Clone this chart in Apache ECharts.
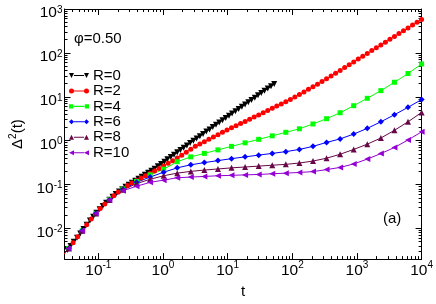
<!DOCTYPE html>
<html><head><meta charset="utf-8">
<script src="https://cdn.jsdelivr.net/npm/echarts@6/dist/echarts.min.js"></script>
<style>html,body{margin:0;padding:0;background:#fff}#c{width:436px;height:304px}</style>
</head><body><div id="c"></div>
<script>
// ---- data (t, Delta^2(t)) ----
const tR0 = [0.0331,0.0372,0.0417,0.0468,0.0525,0.0589,0.0661,0.0741,0.0832,0.0933,
  0.105,0.117,0.132,0.148,0.166,0.186,0.209,0.234,0.263,0.295,
  0.331,0.372,0.417,0.468,0.525,0.589,0.661,0.741,0.832,0.933,
  1.05,1.17,1.32,1.48,1.66,1.86,2.09,2.34,2.63,2.95,
  3.31,3.72,4.17,4.68,5.25,5.89,6.61,7.41,8.32,9.33,
  10.5,11.7,13.2,14.8,16.6,18.6,20.9,23.4,26.3,29.5,
  33.1,37.2,41.7,46.8,52.5];
const dR0 = [0.003206,0.00399,0.004955,0.006166,0.007709,0.009661,0.01208,0.01514,0.01854,0.02275,
  0.02748,0.03258,0.03855,0.04519,0.05236,0.06053,0.06934,0.07852,0.08872,0.09954,
  0.1104,0.1225,0.1358,0.1507,0.1671,0.1854,0.2056,0.2296,0.2600,0.2938,
  0.3319,0.3750,0.4236,0.4786,0.5408,0.6095,0.6887,0.7780,0.8810,0.9954,
  1.125,1.265,1.426,1.607,1.807,2.037,2.296,2.582,2.911,3.281,
  3.690,4.159,4.688,5.272,5.943,6.683,7.534,8.472,9.550,10.76,
  12.11,13.65,15.38,17.30,19.50];

const tR2 = [0.0295,0.0347,0.0407,0.0479,0.0562,0.0661,0.0776,0.0912,0.107,0.126,
  0.148,0.174,0.204,0.240,0.282,0.331,0.389,0.457,0.537,0.631,
  0.741,0.871,1.023,1.202,1.413,1.660,1.950,2.291,2.692,3.162,
  3.715,4.365,5.129,6.026,7.079,8.318,9.772,11.48,13.49,15.85,
  18.62,21.88,25.70,30.20,35.48,41.69,48.98,57.54,67.61,79.43,
  93.33,109.6,128.8,151.4,177.8,208.9,245.5,288.4,338.8,398.1,
  467.7,549.5,645.7,758.6,891.3,1047,1230,1445,1698,1995,
  2344,2754,3236,3802,4467,5248,6166,7244,8511,10000];
const dR2 = [0.00257,0.00350,0.00474,0.00646,0.00883,0.01208,0.01641,0.02183,0.02844,0.03606,
  0.04519,0.05546,0.06776,0.08035,0.0955,0.1086,0.1236,0.1406,0.1589,0.1795,
  0.2028,0.2312,0.2655,0.3048,0.3499,0.4018,0.4656,0.5445,0.6353,0.7413,
  0.8375,0.9462,1.072,1.211,1.368,1.545,1.746,1.959,2.193,2.455,
  2.748,3.076,3.443,3.855,4.325,4.853,5.458,6.124,6.887,7.727,
  8.670,9.863,11.27,12.91,14.79,16.94,19.41,22.18,25.59,29.65,
  34.36,39.90,46.24,53.70,62.23,72.11,83.75,97.05,112.7,130.6,
  151.4,175.8,203.7,236.6,274.8,319.2,369.8,429.5,498.9,579.4];

const tLong = [0.0347,0.0562,0.0912,0.148,0.240,0.389,0.631,1.023,1.660,2.692,
  4.365,7.079,11.48,18.62,30.20,48.98,79.43,128.8,208.9,338.8,
  549.5,891.3,1445,2344,3802,6166,10000];
const dR4 = [0.0035,0.00883,0.0218,0.0452,0.0794,0.1175,0.166,0.224,0.331,0.427,
  0.513,0.617,0.741,0.891,1.072,1.288,1.549,1.862,2.399,3.162,
  4.325,6.266,9.226,13.80,21.38,33.88,55.85];
const dR6 = [0.0035,0.00883,0.0218,0.0447,0.0776,0.1122,0.148,0.191,0.240,0.282,
  0.316,0.351,0.389,0.427,0.468,0.513,0.562,0.631,0.741,0.912,
  1.096,1.413,1.905,2.692,3.890,5.754,8.650];
const dR8 = [0.0035,0.00883,0.0218,0.0447,0.0759,0.1047,0.1318,0.1585,0.182,0.1995,
  0.2138,0.2265,0.2399,0.2512,0.263,0.2754,0.2884,0.309,0.343,0.398,
  0.490,0.631,0.832,1.148,1.718,2.692,4.395];
const dR10 = [0.0035,0.00883,0.0218,0.0447,0.0724,0.0912,0.1122,0.1259,0.1429,0.1479,
  0.1531,0.1585,0.1622,0.1660,0.1698,0.1758,0.1820,0.1884,0.1972,0.2188,
  0.2455,0.2951,0.3802,0.5070,0.6998,1.035,1.589];

const seriesNames = ['R=0','R=2','R=4','R=6','R=8','R=10'];

// ---- ticks ----
const xMajor = [0.1,1,10,100,1000,10000];
const xMinor = [0.04,0.05,0.06,0.07,0.08,0.09,0.2,0.3,0.4,0.5,0.6,0.7,0.8,0.9,
  2,3,4,5,6,7,8,9,20,30,40,50,60,70,80,90,200,300,400,500,600,700,800,900,
  2000,3000,4000,5000,6000,7000,8000,9000];
const yMajor = [0.01,0.1,1,10,100,1000];
const yMinor = [0.003,0.004,0.005,0.006,0.007,0.008,0.009,0.02,0.03,0.04,0.05,0.06,0.07,0.08,0.09,
  0.2,0.3,0.4,0.5,0.6,0.7,0.8,0.9,2,3,4,5,6,7,8,9,20,30,40,50,60,70,80,90,
  200,300,400,500,600,700,800,900];

const FONT = 'Liberation Sans, Arial, Helvetica, sans-serif';
const pow10 = v => { const e = Math.round(Math.log10(v)); return '{b|10}{s|' + e + '}'; };

function xAx(pos, ticks, len, labels, line) {
  return {
    type: 'log', logBase: 10, min: 0.03, max: 10000, position: pos, gridIndex: 0,
    axisLine: { show: line, onZero: false, lineStyle: { color: '#000', width: 1 } },
    axisTick: { show: true, inside: true, length: len, customValues: ticks, lineStyle: { color: '#000', width: 1 } },
    axisLabel: labels ? {
      show: true, customValues: ticks, margin: 1, formatter: pow10,
      rich: { b: { fontSize: 15.5, lineHeight: 22, fontFamily: FONT, color: '#000' },
              s: { fontSize: 10, lineHeight: 8, verticalAlign: 'top', fontFamily: FONT, color: '#000' } }
    } : { show: false },
    splitLine: { show: false }, minorTick: { show: false }, minorSplitLine: { show: false }
  };
}
function yAx(pos, ticks, len, labels, line) {
  return {
    type: 'log', logBase: 10, min: 0.002, max: 1000, position: pos, gridIndex: 0,
    axisLine: { show: line, onZero: false, lineStyle: { color: '#000', width: 1 } },
    axisTick: { show: true, inside: true, length: len, customValues: ticks, lineStyle: { color: '#000', width: 1 } },
    axisLabel: labels ? {
      show: true, customValues: ticks, margin: 2, formatter: pow10, padding: [8, 0, 0, 0],
      rich: { b: { fontSize: 15.5, lineHeight: 16, fontFamily: FONT, color: '#000' },
              s: { fontSize: 10, lineHeight: 6, verticalAlign: 'top', fontFamily: FONT, color: '#000' } }
    } : { show: false },
    splitLine: { show: false }, minorTick: { show: false }, minorSplitLine: { show: false }
  };
}

const xAxes = [xAx('bottom', xMajor, 6, true, true), xAx('bottom', xMinor, 3, false, false),
               xAx('top', xMajor, 6, false, true), xAx('top', xMinor, 3, false, false)];
xAxes[0].name = 't';
xAxes[0].nameLocation = 'middle';
xAxes[0].nameGap = 17;
xAxes[0].nameTextStyle = { fontSize: 15, fontFamily: FONT, color: '#000' };
const yAxes = [yAx('left', yMajor, 6, true, true), yAx('left', yMinor, 3, false, false),
               yAx('right', yMajor, 6, false, true), yAx('right', yMinor, 3, false, false)];
yAxes[0].name = '{a|Δ}{s|2}{a|(t)}';
yAxes[0].nameLocation = 'middle';
yAxes[0].nameRotate = 90;
yAxes[0].nameGap = 35;
yAxes[0].nameTextStyle = { rich: {
  a: { fontSize: 15, lineHeight: 20, fontFamily: FONT, color: '#000' },
  s: { fontSize: 10, lineHeight: 8, verticalAlign: 'top', fontFamily: FONT, color: '#000' } } };

// legend icons: a line with a marker at both ends (no overlapping sub-paths)
const LINE = 'M4.9,2 L15.1,2 L15.1,3 L4.9,3 Z ';
const legendIcons = {
  'R=0': 'path://' + LINE + 'M0,0 L5,0 L2.5,5 Z M15,0 L20,0 L17.5,5 Z',
  'R=2': 'path://' + LINE + 'M0,2.5 A2.5,2.5 0 1 1 5,2.5 A2.5,2.5 0 1 1 0,2.5 Z M15,2.5 A2.5,2.5 0 1 1 20,2.5 A2.5,2.5 0 1 1 15,2.5 Z',
  'R=4': 'path://' + LINE + 'M0.5,0.5 L4.5,0.5 L4.5,4.5 L0.5,4.5 Z M15.5,0.5 L19.5,0.5 L19.5,4.5 L15.5,4.5 Z',
  'R=6': 'path://' + LINE + 'M0,2.5 L2.5,0 L5,2.5 L2.5,5 Z M15,2.5 L17.5,0 L20,2.5 L17.5,5 Z',
  'R=8': 'path://' + LINE + 'M0,5 L5,5 L2.5,0 Z M15,5 L20,5 L17.5,0 Z',
  'R=10': 'path://' + LINE + 'M0,2.5 L5,0 L5,5 Z M15,2.5 L20,0 L20,5 Z'
};

function mk(name, ts, ds, color, symbol, rot, size) {
  return {
    type: 'line', name: name, xAxisIndex: 0, yAxisIndex: 0,
    data: ts.map((t, i) => [t, ds[i]]),
    symbol: symbol, symbolRotate: rot, symbolSize: size, showSymbol: true,
    lineStyle: { color: color, width: 1 }, itemStyle: { color: color },
    emphasis: { disabled: true }, animation: false, clip: true
  };
}

const chart = echarts.init(document.getElementById('c'), null, { renderer: 'canvas' });
chart.setOption({
  backgroundColor: '#fff',
  animation: false,
  grid: { left: 55, top: 9, width: 368, height: 258, containLabel: false },
  xAxis: xAxes,
  yAxis: yAxes,
  legend: {
    orient: 'vertical', left: 69, top: 68, padding: 0, itemGap: 0.45,
    itemWidth: 20, itemHeight: 5,
    itemStyle: { borderWidth: 0 },
    data: seriesNames.map(n => ({ name: n, icon: legendIcons[n] })),
    textStyle: { fontSize: 15, lineHeight: 14, fontFamily: FONT, color: '#000', padding: [0, 0, 0, -1] }
  },
  graphic: [
    { type: 'text', left: 74, top: 31, style: { text: 'φ=0.50', font: '15px ' + FONT, fill: '#000' } },
    { type: 'text', left: 383, top: 211, style: { text: '(a)', font: '15px ' + FONT, fill: '#000' } }
  ],
  series: [
    mk('R=0', tR0, dR0, '#000000', 'triangle', 180, 6),
    mk('R=2', tR2, dR2, '#ff0000', 'circle', 0, 5),
    mk('R=4', tLong, dR4, '#00ff00', 'rect', 0, 5),
    mk('R=6', tLong, dR6, '#0000ff', 'diamond', 0, 6),
    mk('R=8', tLong, dR8, '#670748', 'triangle', 0, 6),
    mk('R=10', tLong, dR10, '#9400d3', 'triangle', 90, 6)
  ]
});
</script></body></html>
